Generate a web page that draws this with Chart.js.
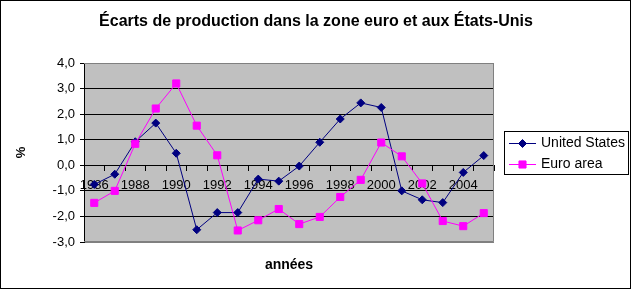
<!DOCTYPE html>
<html>
<head>
<meta charset="utf-8">
<script src="https://cdn.jsdelivr.net/npm/chart.js@4"></script>
<style>
  html, body { margin: 0; padding: 0; background: #fff; }
  #wrap { width: 632px; height: 290px; }
</style>
</head>
<body>
<div id="wrap"><canvas id="chart" width="632" height="290"></canvas></div>
<script>
const years = ["1986", "1987", "1988", "1989", "1990", "1991", "1992", "1993", "1994", "1995",
               "1996", "1997", "1998", "1999", "2000", "2001", "2002", "2003", "2004", "2005"];
const unitedStates = [-0.75, -0.35, 0.92, 1.65, 0.47, -2.52, -1.85, -1.85, -0.54, -0.62,
                      -0.03, 0.9, 1.81, 2.44, 2.26, -1.0, -1.35, -1.46, -0.28, 0.38];
const euroArea = [-1.47, -1.0, 0.84, 2.22, 3.2, 1.55, 0.39, -2.55, -2.15, -1.71,
                  -2.3, -2.02, -1.24, -0.57, 0.89, 0.35, -0.71, -2.18, -2.38, -1.87];
const yMin = -3, yMax = 4, yStep = 1;

const FONT = "'Liberation Sans', Arial, sans-serif";

// grey plot area + grey frame (top, right, bottom), outer frame and boxed legend
const plotBg = {
    id: "plotBg",
    beforeDraw(chart) {
        const { ctx, chartArea: a } = chart;
        ctx.save();
        ctx.fillStyle = "#c0c0c0";
        ctx.fillRect(a.left, a.top, a.right - a.left, a.bottom - a.top);
        ctx.restore();
    },
    beforeDatasetsDraw(chart) {
        const { ctx, chartArea: a } = chart;
        ctx.save();
        ctx.strokeStyle = "#808080";
        ctx.lineWidth = 1;
        ctx.beginPath();
        ctx.moveTo(a.left, Math.round(a.top) + 0.5);
        ctx.lineTo(Math.round(a.right) - 0.5, Math.round(a.top) + 0.5);
        ctx.lineTo(Math.round(a.right) - 0.5, Math.round(a.bottom) - 0.5);
        ctx.lineTo(a.left, Math.round(a.bottom) - 0.5);
        ctx.stroke();
        ctx.restore();
    },
    afterDraw(chart) {
        const { ctx } = chart;
        ctx.save();
        ctx.strokeStyle = "#000";
        ctx.lineWidth = 1;
        ctx.strokeRect(0.5, 0.5, 630, 288);

        ctx.fillStyle = "#fff";
        ctx.fillRect(504.5, 131.5, 124, 43);
        ctx.strokeRect(504.5, 131.5, 124, 43);
        const rows = [143, 164];
        chart.data.datasets.forEach((ds, i) => {
            const y = rows[i] + 0.5;
            ctx.strokeStyle = ds.borderColor;
            ctx.lineWidth = 1;
            ctx.beginPath();
            ctx.moveTo(509, y);
            ctx.lineTo(536, y);
            ctx.stroke();
            ctx.fillStyle = ds.pointBackgroundColor;
            ctx.strokeStyle = ds.borderColor;
            Chart.helpers.drawPoint(ctx, {
                pointStyle: ds.pointStyle, radius: ds.pointRadius, borderWidth: 1, rotation: 0
            }, 522.5, y);
            ctx.fillStyle = "#000";
            ctx.font = "14px " + FONT;
            ctx.textBaseline = "middle";
            ctx.textAlign = "left";
            ctx.fillText(ds.label, 541, y);
        });
        ctx.restore();
    }
};

new Chart(document.getElementById("chart"), {
    type: "line",
    data: {
        labels: years,
        datasets: [
            {
                label: "United States",
                data: unitedStates,
                borderColor: "#000080",
                backgroundColor: "#000080",
                pointBackgroundColor: "#000080",
                pointStyle: "rectRot",
                pointRadius: 4,
                borderWidth: 1,
                tension: 0,
                order: 1
            },
            {
                label: "Euro area",
                data: euroArea,
                borderColor: "#ff00ff",
                backgroundColor: "#ff00ff",
                pointBackgroundColor: "#ff00ff",
                pointStyle: "rect",
                pointRadius: 5,
                borderWidth: 1,
                tension: 0,
                order: 0
            }
        ]
    },
    options: {
        responsive: false,
        animation: false,
        layout: { padding: 0 },
        plugins: {
            legend: { display: false },
            tooltip: { enabled: false },
            title: {
                display: true,
                text: "Écarts de production dans la zone euro et aux États-Unis",
                fullSize: true,
                align: "center",
                color: "#000",
                font: { family: FONT, size: 16, weight: "bold" },
                padding: { top: 12.4, bottom: 31.4 }
            },
            subtitle: {
                display: true,
                text: "années",
                position: "bottom",
                fullSize: false,
                color: "#000",
                font: { family: FONT, size: 14, weight: "bold" },
                padding: { top: 14.6, bottom: 16.6 }
            }
        },
        scales: {
            x: {
                position: { y: 0 },
                offset: true,
                grid: {
                    offset: true,
                    drawOnChartArea: false,
                    drawTicks: true,
                    tickLength: 5,
                    color: "#000"
                },
                border: { color: "#000" },
                ticks: {
                    autoSkip: false,
                    maxRotation: 0,
                    padding: 7,
                    color: "#000",
                    font: { family: FONT, size: 13 },
                    callback: (v, i) => (i % 2 === 0 ? years[i] : "")
                }
            },
            y: {
                min: yMin,
                max: yMax,
                afterFit: (scale) => { scale.width = 84; },
                grid: {
                    color: (c) => (c.tick && (c.tick.value === yMin || c.tick.value === yMax) ? "#808080" : "#000"),
                    tickColor: "#000",
                    tickLength: 4
                },
                border: { color: "#000" },
                ticks: {
                    stepSize: yStep,
                    padding: 5,
                    color: "#000",
                    font: { family: FONT, size: 13 },
                    callback: (v) => v.toFixed(1).replace(".", ",")
                },
                title: {
                    display: true,
                    text: "%",
                    color: "#000",
                    font: { family: FONT, size: 13, weight: "bold" },
                    padding: { top: 14, bottom: 0 }
                }
            },
            // empty right-hand axis that only reserves room for the legend box
            legendSpace: {
                type: "linear",
                position: "right",
                display: true,
                min: yMin,
                max: yMax,
                afterFit: (scale) => { scale.width = 138; },
                grid: { display: false, drawOnChartArea: false },
                border: { display: false },
                ticks: { display: false }
            }
        }
    },
    plugins: [plotBg]
});
</script>
</body>
</html>
